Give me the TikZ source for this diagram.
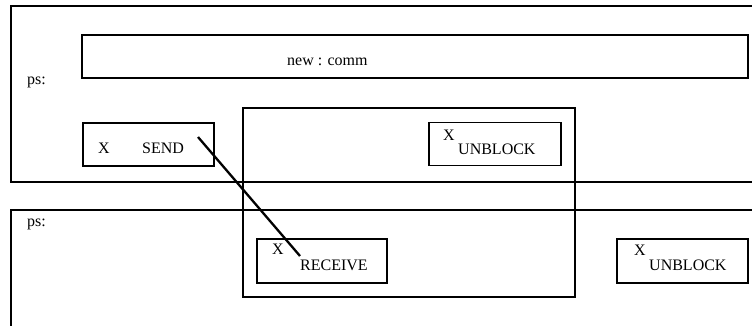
\documentclass[tikz,border=0pt]{standalone}
\usepackage{fontspec}
\setmainfont{Liberation Serif}
\usepackage{tikz}

\begin{document}
\begin{tikzpicture}[
  x=1pt, y=-1pt,
  font=\fontsize{16}{19}\selectfont,
  frame/.style={draw, line width=1.5pt},
  box/.style={draw, line width=1.9pt, inner sep=0pt, minimum height=43pt},
  lbl/.style={anchor=base west, inner sep=0pt},
  link/.style={draw, line width=2.3pt}
]
\useasboundingbox (0,0) rectangle (752,325);

% the two process panes, open to the right and below
\draw[frame] (753,6) -- (11,6) -- (11,182) -- (753,182);
\draw[frame] (753,210) -- (11,210) -- (11,326);
\node[lbl] (pstop) at (27,84) {ps:};
\node[lbl] (psbot) at (27,226) {ps:};

\node[box, minimum width=666pt] (comm) at (415,56.5) {};
\node[lbl] (commlbl) at (287,65) {new : comm};

\node[box, line width=1.5pt, minimum width=332pt, minimum height=189pt] (region) at (409,202.5) {};

\node[box, minimum width=131pt] (send) at (148.5,144.5) {};
\node[lbl] (sendx) at (98,153) {X};
\node[lbl] (sendlbl) at (142,153) {SEND};

\node[box, minimum width=132pt] (unblocka) at (495,144) {};
\node[lbl] (unblockax) at (443,140) {X};
\node[lbl] (unblockalbl) at (458,154) {UNBLOCK};

\node[box, minimum width=130pt, minimum height=44pt] (recv) at (322,261) {};
\node[lbl] (recvx) at (272,254) {X};
\node[lbl] (recvlbl) at (300,270) {RECEIVE};

\node[box, minimum width=131pt, minimum height=44pt] (unblockb) at (682.5,261) {};
\node[lbl] (unblockbx) at (634,255) {X};
\node[lbl] (unblockblbl) at (649,270) {UNBLOCK};

\coordinate (sendtail) at (198,137);
\coordinate (recvhead) at (300,256);
\draw[link] (sendtail) -- (recvhead);
\end{tikzpicture}
\end{document}
